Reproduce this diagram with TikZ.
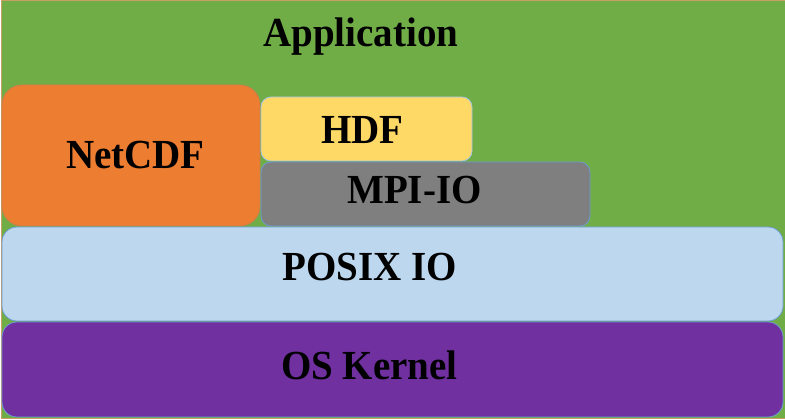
\documentclass[tikz,border=0pt]{standalone}
\usepackage{fontspec}
\setmainfont{Liberation Serif}
\definecolor{appgreen}{HTML}{70AD47}
\definecolor{apprim}{HTML}{C9A063}
\definecolor{ncorange}{HTML}{ED7D31}
\definecolor{hdfyellow}{HTML}{FFD966}
\definecolor{mpigrey}{HTML}{7F7F7F}
\definecolor{posixblue}{HTML}{BDD7EE}
\definecolor{kpurple}{HTML}{7030A0}
\definecolor{edgeblue}{HTML}{6C9BD2}
\newcommand{\tallbf}[1]{\scalebox{1}[1.06]{#1}}
\begin{document}
\begin{tikzpicture}[x=1pt,y=-1pt,
  layer/.style={draw=edgeblue,line width=0.8pt,inner sep=0pt,outer sep=0pt},
  lbl/.style={anchor=base west,inner sep=0pt,font=\fontsize{39}{41}\selectfont\bfseries,text=black}]
\useasboundingbox (0,0) rectangle (785,419);
\node[draw=apprim,fill=appgreen,line width=1pt,anchor=north west,minimum width=784pt,minimum height=418pt,inner sep=0pt] (app) at (0.5,0.5) {};
\node[lbl] (applbl) at (263,47) {\tallbf{Application}};
\node[layer,draw=ncorange!70!gray,fill=ncorange,rounded corners=20pt,anchor=north west,minimum width=258pt,minimum height=141pt] (netcdf) at (2,85) {};
\node[lbl] (netcdflbl) at (66,169) {\tallbf{NetCDF}};
\node[layer,draw=posixblue!70!edgeblue,fill=hdfyellow,rounded corners=10pt,anchor=north west,minimum width=211pt,minimum height=64pt] (hdf) at (261,97) {};
\node[lbl] (hdflbl) at (321,143.5) {\tallbf{HDF}};
\node[layer,fill=mpigrey,rounded corners=10pt,anchor=north west,minimum width=329pt,minimum height=64pt] (mpi) at (261,162) {};
\node[lbl] (mpilbl) at (347,203.5) {\tallbf{MPI-IO}};
\node[layer,fill=posixblue,rounded corners=15pt,anchor=north west,minimum width=781pt,minimum height=94pt] (posix) at (2,227) {};
\node[lbl] (posixlbl) at (282,280.5) {\tallbf{POSIX IO}};
\node[layer,fill=kpurple,rounded corners=15pt,anchor=north west,minimum width=781pt,minimum height=95pt] (kernel) at (2,322) {};
\node[lbl] (kernellbl) at (281,380) {\tallbf{OS Kernel}};
\end{tikzpicture}
\end{document}
